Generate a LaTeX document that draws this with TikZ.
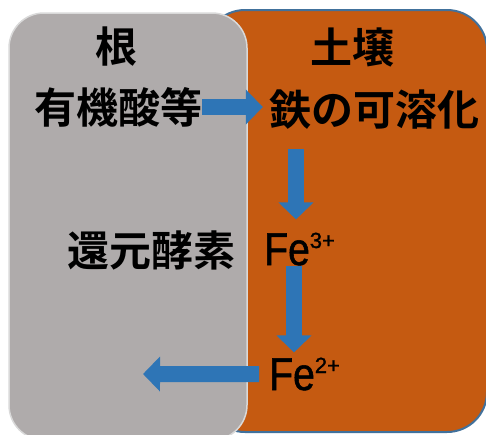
\documentclass[tikz,border=0pt]{standalone}
\usepackage{fontspec}
\newfontfamily\jpfont{Noto Sans CJK JP Bold}
\newfontfamily\fefont{Liberation Sans}[FakeStretch=0.85,FakeBold=1.2]
\newfontfamily\supfont{Liberation Sans}[FakeBold=1.2]
\usetikzlibrary{arrows.meta,positioning}
\definecolor{soilfill}{HTML}{C55A11}
\definecolor{soilline}{HTML}{41719C}
\definecolor{rootfill}{HTML}{AFABAB}
\definecolor{rootline}{HTML}{D9D9D9}
\definecolor{flowblue}{HTML}{2E75B6}
\tikzstyle{jtext} = [inner sep=0pt,font=\jpfont\fontsize{42}{50}\selectfont]
\tikzstyle{ion} = [inner sep=0pt,anchor=base west,font=\fefont\fontsize{46}{50}\selectfont]
\tikzstyle{flow} = [draw=flowblue,line width=16pt,-{Triangle[length=17pt,width=34pt]}]
\newcommand{\charge}[1]{\raisebox{17pt}{\supfont\fontsize{22}{22}\selectfont #1}}

\begin{document}
\begin{tikzpicture}[x=1pt,y=-1pt]
   \useasboundingbox (0,0) rectangle (486,434);
   % soil and root areas
   \path[fill=soilfill,draw=soilline,line width=2pt,rounded corners=40pt] (205,10) rectangle (487,432);
   \path[fill=rootfill,draw=rootline,line width=1.5pt,rounded corners=35pt] (9,13) rectangle (247,440);

   \node[jtext] (root)    at (116,47)  {根};
   \node[jtext] (soil)    at (352,47)  {土壌};
   \node[jtext] (acid)    at (118,107) {有機酸等};
   \node[jtext] (soluble) at (374,110) {鉄の可溶化};
   \node[jtext] (enzyme)  at (151,250) {還元酵素};
   \node[ion] (fe3) at (264,265) {Fe\charge{3+}};
   \node[ion] (fe2) at (269,390) {Fe\charge{2+}};
   \coordinate (uptake) at (143,374);

   \draw[flow,shorten >=6pt] (acid.east) -- (acid.east -| soluble.west);
   \draw[flow,shorten <=19pt,shorten >=13pt] ([xshift=32pt]fe3.west |- soluble.south) -- ([xshift=32pt]fe3.west |- fe3.north);
   \draw[flow,shorten >=5pt] ([xshift=25pt]fe2.west |- fe3.south) -- ([xshift=25pt]fe2.west |- fe2.north);
   \draw[flow,shorten <=10pt] (fe2.west) -- (uptake);
\end{tikzpicture}
\end{document}
